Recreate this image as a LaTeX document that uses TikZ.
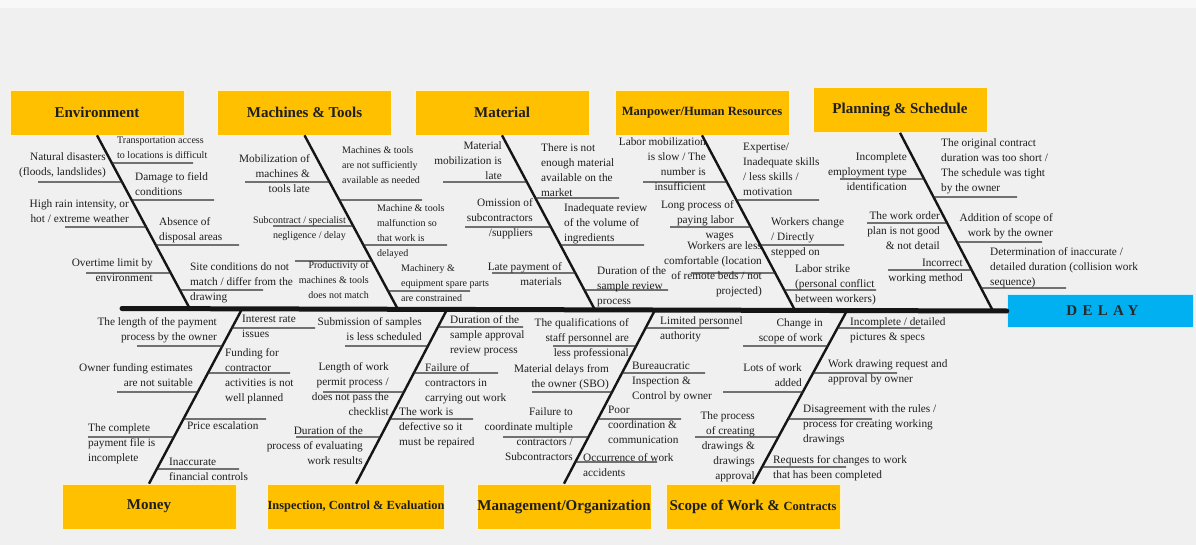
\documentclass[tikz,border=0pt]{standalone}
\usepackage{fontspec}
\setmainfont{Liberation Serif}
\definecolor{gold}{HTML}{FFC000}
\definecolor{sky}{HTML}{00B0F0}
\definecolor{txt}{HTML}{1E1E1E}
\definecolor{boneclr}{HTML}{151515}
\definecolor{twigclr}{HTML}{2E2E2E}
\definecolor{bg}{HTML}{F0F0F0}
\definecolor{band}{HTML}{F8F8F8}
\definecolor{delaytxt}{HTML}{2A2A2A}
% horizontal cause line from a bone (#1--#2) at height #3 to x = #4
\newcommand\twig[4]{\draw[twig] (intersection of #1--#2 and 0,#3--100,#3) -- (#4,#3);}
\begin{document}
\begin{tikzpicture}[x=1pt,y=-1pt,
  every node/.style={text=txt},
  lt/.style={anchor=north west, align=left, inner sep=0pt, yshift=4.5pt, font=\fontsize{11.3}{15}\selectfont},
  rt/.style={anchor=north east, align=right, inner sep=0pt, yshift=4.5pt, font=\fontsize{11.3}{15}\selectfont},
  sm/.style={font=\fontsize{10}{15}\selectfont},
  cat/.style={fill=gold, draw=white!80!gold, line width=0.6pt, minimum width=174pt, minimum height=45pt, inner sep=0pt, font=\bfseries\fontsize{15}{17}\selectfont},
  bone/.style={line width=2.4pt, draw=boneclr},
  twig/.style={line width=1.2pt, draw=twigclr},
  spine/.style={line width=5pt, draw=boneclr, line cap=round}]

% canvas
\fill[bg] (0,0) rectangle (1196,545);
\fill[band] (0,0) rectangle (1196,8);
\useasboundingbox (0,0) rectangle (1196,545);

% category boxes
\node[cat] (env) at (97,112.5) {Environment};
\node[cat] (mac) at (304.5,112.5) {Machines \& Tools};
\node[cat] (mat) at (502,112.5) {Material};
\node[cat,font=\bfseries\fontsize{12.6}{14}\selectfont] (man) at (702,112.5) {Manpower/Human Resources};
\node[cat] (pla) at (900,110) {Planning \& Schedule};
\node[cat] (mon) at (149,506.5) {Money};
\node[cat,font=\bfseries\fontsize{12.4}{14}\selectfont] (ins) at (356,506.5) {Inspection, Control \& Evaluation};
\node[cat] (mgt) at (564,506.5) {Management/Organization};
\node[cat] (sco) at (753,506.5) {Scope of Work \& {\fontsize{12.5}{14}\selectfont Contracts}};

% effect box
\node[fill=sky, draw=white!80!sky, line width=0.6pt, minimum width=186pt, minimum height=33pt, inner sep=0pt,
      text=delaytxt, font=\bfseries\fontsize{15}{17}\selectfont\addfontfeature{LetterSpace=35}] (delay) at (1100,311) {\hspace*{5pt}DELAY};

% spine
\coordinate (tail) at (122,308.5);
\draw[spine] (tail) -- (delay.west);

% bone ends
\coordinate (envT) at (env.south); \coordinate (envS) at (190,309);
\coordinate (macT) at (mac.south); \coordinate (macS) at (398,309.5);
\coordinate (matT) at (mat.south); \coordinate (matS) at (595,310);
\coordinate (manT) at (man.south); \coordinate (manS) at (795,310.3);
\coordinate (plaT) at (pla.south); \coordinate (plaS) at (993,311);
\coordinate (monT) at (mon.north); \coordinate (monS) at (242,309);
\coordinate (insT) at (ins.north); \coordinate (insS) at (447,309.5);
\coordinate (mgtT) at (mgt.north); \coordinate (mgtS) at (655,310);
\coordinate (scoT) at (sco.north); \coordinate (scoS) at (847,310.5);

\foreach \b in {env,mac,mat,man,pla,mon,ins,mgt,sco}{\draw[bone] (\b T) -- (\b S);}

% ---------------- Environment
\twig{envT}{envS}{163}{193}
\twig{envT}{envS}{182}{38}
\twig{envT}{envS}{200}{214}
\twig{envT}{envS}{227}{65}
\twig{envT}{envS}{245}{239}
\twig{envT}{envS}{273}{86}
\twig{envT}{envS}{290}{263}
\node[lt,sm] (e1) at (117,141) {Transportation access\\to locations is difficult};
\node[rt] (e2) at (106,157) {Natural disasters\\(floods, landslides)};
\node[lt] (e3) at (135,177) {Damage to field\\conditions};
\node[rt] (e4) at (129,204) {High rain intensity, or\\hot / extreme weather};
\node[lt] (e5) at (159,222) {Absence of\\disposal areas};
\node[rt] (e6) at (153,263) {Overtime limit by\\environment};
\node[lt] (e7) at (190,267) {Site conditions do not\\match / differ from the\\drawing};

% ---------------- Machines & Tools
\twig{macT}{macS}{182}{245}
\twig{macT}{macS}{200}{422}
\twig{macT}{macS}{226}{273}
\twig{macT}{macS}{245}{447}
\twig{macT}{macS}{261}{295}
\twig{macT}{macS}{291}{470}
\node[rt] (m1) at (310,159) {Mobilization of\\machines \&\\tools late};
\node[lt,sm] (m2) at (342,151) {Machines \& tools\\are not sufficiently\\available as needed};
\node[rt,sm] (m3) at (346,221) {Subcontract / specialist\\negligence / delay};
\node[lt,sm] (m4) at (377,209) {Machine \& tools\\malfunction so\\that work is\\delayed};
\node[rt,sm] (m5) at (369,266) {Productivity of\\machines \& tools\\does not match};
\node[lt,sm] (m6) at (401,269) {Machinery \&\\equipment spare parts\\are constrained};

% ---------------- Material
\twig{matT}{matS}{182}{443}
\twig{matT}{matS}{198}{619}
\twig{matT}{matS}{227}{465}
\twig{matT}{matS}{245}{644}
\twig{matT}{matS}{273}{492}
\twig{matT}{matS}{290}{668}
\node[rt] (t1) at (502,146) {Material\\mobilization is\\late};
\node[lt] (t2) at (541,148) {There is not\\enough material\\available on the\\market};
\node[rt] (t3) at (533,203) {Omission of\\subcontractors\\/suppliers};
\node[lt] (t4) at (564,208) {Inadequate review\\of the volume of\\ingredients};
\node[rt] (t5) at (562,267) {Late payment of\\materials};
\node[lt] (t6) at (597,271) {Duration of the\\sample review\\process};

% ---------------- Manpower/Human Resources
\twig{manT}{manS}{182}{643}
\twig{manT}{manS}{200}{819}
\twig{manT}{manS}{227}{670}
\twig{manT}{manS}{245}{844}
\twig{manT}{manS}{273}{691}
\twig{manT}{manS}{290}{876}
\node[rt] (p1) at (706,142) {Labor mobilization\\is slow / The\\number is\\insufficient};
\node[lt] (p2) at (743,147) {Expertise/\\Inadequate skills\\/ less skills /\\motivation};
\node[rt] (p3) at (734,205) {Long process of\\paying labor\\wages};
\node[lt] (p4) at (771,222) {Workers change\\/ Directly\\stepped on};
\node[rt] (p5) at (762,246) {Workers are less\\comfortable (location\\of remote beds / not\\projected)};
\node[lt] (p6) at (795,269) {Labor strike\\(personal conflict\\between workers)};

% ---------------- Planning & Schedule
\twig{plaT}{plaS}{179}{840}
\twig{plaT}{plaS}{197}{1017}
\twig{plaT}{plaS}{223}{867}
\twig{plaT}{plaS}{242}{1042}
\twig{plaT}{plaS}{270}{888}
\twig{plaT}{plaS}{288}{1066}
\node[rt] (s1) at (907,157) {Incomplete\\employment type\\identification};
\node[lt] (s2) at (941,143) {The original contract\\duration was too short /\\The schedule was tight\\by the owner};
\node[rt] (s3) at (940,216) {The work order\\plan is not good\\\& not detail};
\node[rt] (s4) at (1053,218) {Addition of scope of\\work by the owner};
\node[rt] (s5) at (963,263) {Incorrect\\working method};
\node[lt] (s6) at (990,252) {Determination of inaccurate /\\detailed duration (collision work\\sequence)};

% ---------------- Money
\twig{monT}{monS}{346}{137}
\twig{monT}{monS}{328}{315}
\twig{monT}{monS}{373}{290}
\twig{monT}{monS}{392}{117}
\twig{monT}{monS}{419}{266}
\twig{monT}{monS}{437}{88}
\twig{monT}{monS}{469}{239}
\node[rt] (y1) at (217,322) {The length of the payment\\process by the owner};
\node[lt] (y2) at (242,319) {Interest rate\\issues};
\node[lt] (y3) at (225,353) {Funding for\\contractor\\activities is not\\well planned};
\node[rt] (y4) at (193,368) {Owner funding estimates\\are not suitable};
\node[lt] (y5) at (187,426) {Price escalation};
\node[lt] (y6) at (88,428) {The complete\\payment file is\\incomplete};
\node[lt] (y7) at (169,462) {Inaccurate\\financial controls};

% ---------------- Inspection, Control & Evaluation
\twig{insT}{insS}{346}{345}
\twig{insT}{insS}{327}{523}
\twig{insT}{insS}{392}{323}
\twig{insT}{insS}{373}{498}
\twig{insT}{insS}{419}{473}
\twig{insT}{insS}{437}{296}
\node[rt] (i1) at (422,322) {Submission of samples\\is less scheduled};
\node[lt] (i2) at (450,320) {Duration of the\\sample approval\\review process};
\node[rt] (i3) at (389,367) {Length of work\\permit process /\\does not pass the\\checklist};
\node[lt] (i4) at (425,368) {Failure of\\contractors in\\carrying out work};
\node[lt] (i5) at (399,412) {The work is\\defective so it\\must be repaired};
\node[rt] (i6) at (363,431) {Duration of the\\process of evaluating\\work results};

% ---------------- Management/Organization
\twig{mgtT}{mgtS}{346}{553}
\twig{mgtT}{mgtS}{328}{729}
\twig{mgtT}{mgtS}{392}{532}
\twig{mgtT}{mgtS}{373}{705}
\twig{mgtT}{mgtS}{437}{503}
\twig{mgtT}{mgtS}{419}{681}
\twig{mgtT}{mgtS}{462}{657}
\node[rt] (g1) at (629,323) {The qualifications of\\staff personnel are\\less professional};
\node[lt] (g2) at (660,321) {Limited personnel\\authority};
\node[rt] (g3) at (609,369) {Material delays from\\the owner (SBO)};
\node[lt] (g4) at (632,366) {Bureaucratic\\Inspection \&\\Control by owner};
\node[rt] (g5) at (573,412) {Failure to\\coordinate multiple\\contractors /\\Subcontractors};
\node[lt] (g6) at (608,410) {Poor\\coordination \&\\communication};
\node[lt] (g7) at (583,458) {Occurrence of work\\accidents};

% ---------------- Scope of Work & Contracts
\twig{scoT}{scoS}{346}{743}
\twig{scoT}{scoS}{328}{921}
\twig{scoT}{scoS}{392}{723}
\twig{scoT}{scoS}{373}{897}
\twig{scoT}{scoS}{419}{872}
\twig{scoT}{scoS}{437}{695}
\twig{scoT}{scoS}{467}{846}
\node[rt] (w1) at (823,323) {Change in\\scope of work};
\node[lt] (w2) at (850,322) {Incomplete / detailed\\pictures \& specs};
\node[rt] (w3) at (802,368) {Lots of work\\added};
\node[lt] (w4) at (828,364) {Work drawing request and\\approval by owner};
\node[lt] (w5) at (803,409) {Disagreement with the rules /\\process for creating working\\drawings};
\node[rt] (w6) at (755,416) {The process\\of creating\\drawings \&\\drawings\\approval};
\node[lt] (w7) at (773,460) {Requests for changes to work\\that has been completed};
\end{tikzpicture}
\end{document}
